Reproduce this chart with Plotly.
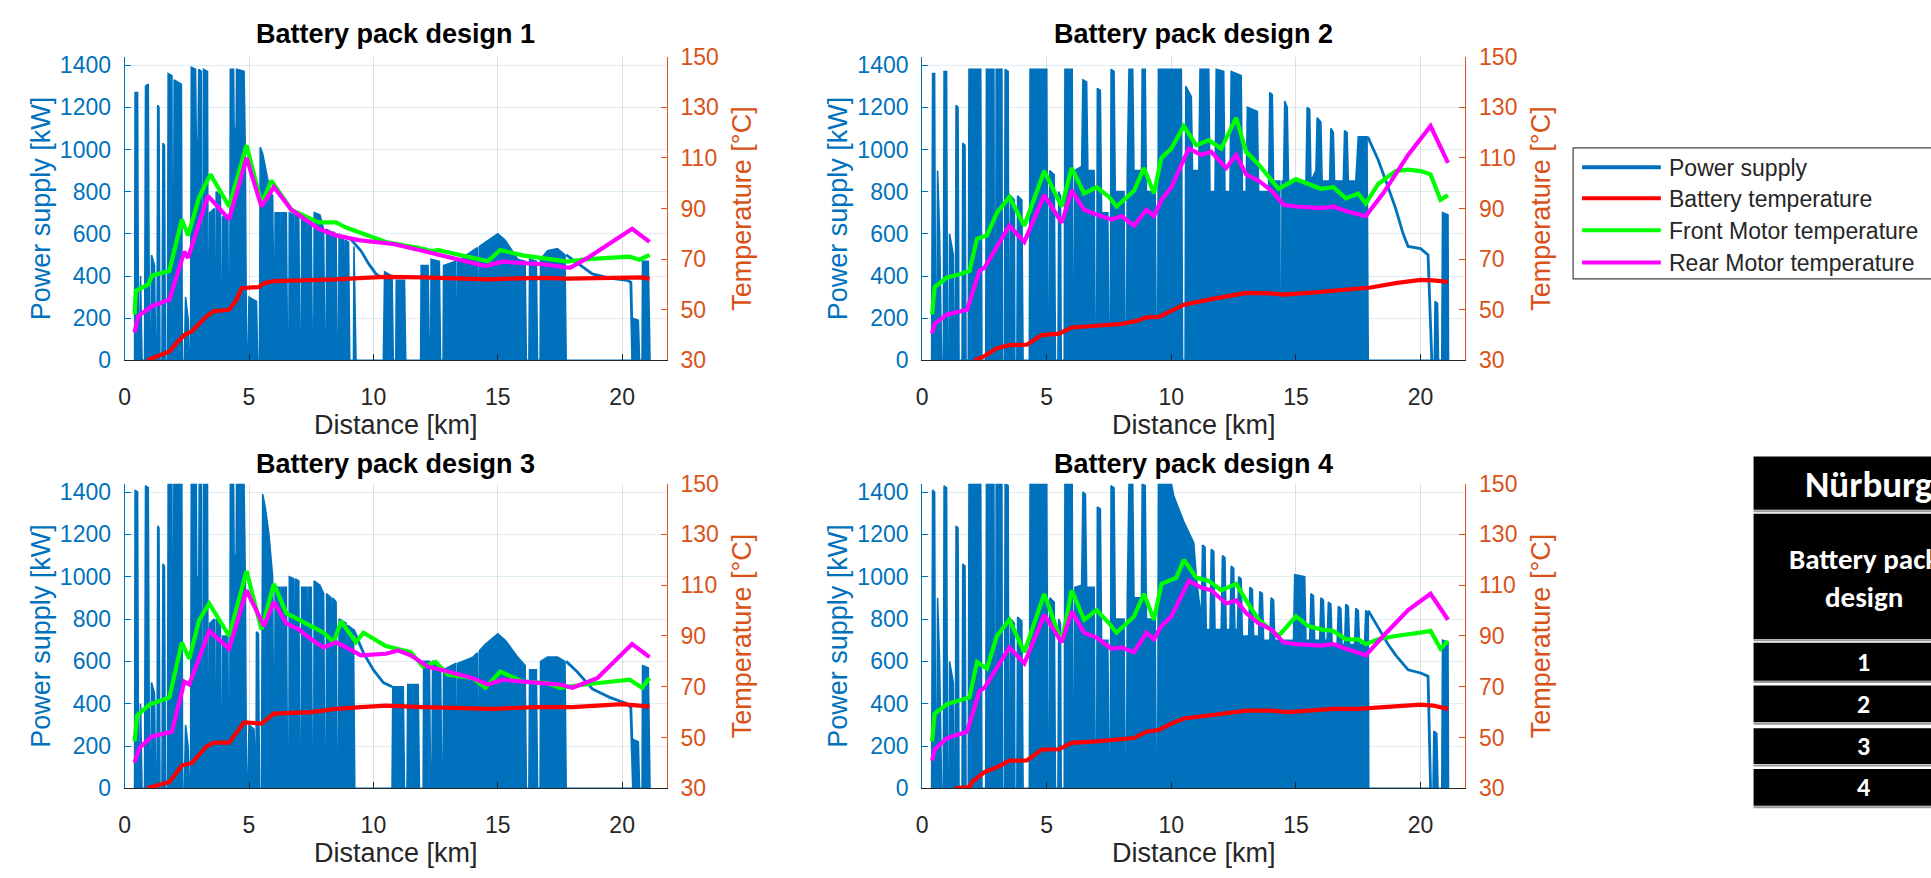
import plotly.graph_objects as go

# ---------------- data ----------------
titles = ["Battery pack design 1", "Battery pack design 2",
          "Battery pack design 3", "Battery pack design 4"]
x_ticks = [0, 5, 10, 15, 20]
power_ticks = [0, 200, 400, 600, 800, 1000, 1200, 1400]
temp_ticks = [30, 50, 70, 90, 110, 130, 150]
legend_labels = ["Power supply", "Battery temperature",
                 "Front Motor temperature", "Rear Motor temperature"]
table_title = "Nürburgring"
table_header = "Battery pack<br>design"
table_rows = ["1", "2", "3", "4"]

# power supply (km, kW) – dense switching regions given as envelopes
power_1 = [
    (0.40, 0), (0.42, 1270), (0.52, 1270), (0.56, 0), (0.60, 0), (0.64, 400), (0.70, 0),
    (0.80, 0), (0.84, 1300), (0.95, 1310), (1.00, 0), (1.05, 0), (1.08, 500), (1.20, 450), (1.25, 0),
    (1.30, 0), (1.33, 1210), (1.38, 1200), (1.42, 0), (1.50, 0), (1.54, 1030), (1.60, 1020), (1.64, 0),
    (1.72, 0), (1.75, 1360), (1.90, 1350), (1.93, 0), (1.96, 0), (1.99, 1330), (2.28, 1310), (2.32, 0),
    (2.40, 0), (2.45, 300), (2.55, 200), (2.60, 0),
    (2.65, 0), (2.68, 1390), (2.85, 1380), (2.88, 1050), (2.95, 1050), (2.98, 1380), (3.08, 1370), (3.10, 0),
    (3.15, 0), (3.17, 1380), (3.33, 1370), (3.36, 0),
    (3.40, 0), (3.42, 700), (3.60, 720), (3.62, 0), (3.66, 0), (3.68, 800), (3.85, 780), (3.88, 0),
    (3.92, 0), (3.94, 680), (4.15, 690), (4.18, 0),
    (4.22, 0), (4.25, 1380), (4.38, 1380), (4.40, 1100), (4.48, 1100), (4.50, 1380), (4.80, 1370),
    (4.85, 1000), (4.90, 0), (4.95, 0), (5.00, 300), (5.30, 280), (5.35, 0),
    (5.42, 0), (5.45, 1010), (5.55, 980), (5.70, 880), (5.85, 800), (5.95, 780), (6.00, 0),
    (6.02, 0), (6.05, 700), (6.25, 700), (6.27, 0), (6.30, 0), (6.32, 700), (6.50, 700), (6.55, 0),
    (6.60, 0), (6.62, 700), (6.80, 690), (6.82, 0), (6.85, 0), (6.87, 690), (7.00, 680), (7.05, 0),
    (7.10, 0), (7.12, 680), (7.30, 670), (7.32, 0), (7.35, 0), (7.37, 670), (7.50, 660), (7.55, 0),
    (7.60, 0), (7.62, 700), (7.85, 690), (8.00, 620), (8.05, 0),
    (8.10, 0), (8.12, 620), (8.30, 610), (8.32, 0), (8.35, 0), (8.37, 610), (8.50, 600), (8.55, 0),
    (8.60, 0), (8.62, 600), (8.80, 580), (8.82, 0), (8.85, 0), (8.87, 570), (9.00, 560), (9.05, 0),
    (9.20, 0), (9.22, 540), (9.30, 0),
    (10.40, 0), (10.45, 420), (10.75, 400), (10.80, 0), (10.90, 0), (10.92, 380), (11.25, 380), (11.30, 0),
    (11.90, 0), (11.92, 450), (12.20, 450), (12.25, 0), (12.30, 0), (12.32, 480), (12.65, 470), (12.70, 0),
    (12.80, 0), (12.82, 450), (13.30, 470), (13.32, 0), (13.36, 0), (13.38, 470), (14.00, 520),
    (14.18, 535), (14.20, 0), (14.24, 0), (14.26, 540), (14.50, 560), (15.00, 600), (15.30, 570),
    (15.80, 480), (16.10, 470), (16.15, 0), (16.25, 0), (16.28, 480), (16.55, 470), (16.60, 0),
    (16.70, 0), (16.72, 480), (17.00, 520), (17.40, 530), (17.70, 500), (17.75, 0),
    (20.40, 0), (20.42, 200), (20.65, 190), (20.70, 0), (20.80, 0), (20.82, 470), (21.05, 470),
    (21.10, 80), (21.12, 0)]
tail_1 = [(9.05, 580), (9.5, 520), (9.8, 460), (10.1, 410), (10.4, 390), None,
          (17.75, 500), (18.2, 460), (18.8, 410), (19.5, 390), (20.2, 380), (20.35, 370), (20.42, 0)]

power_2 = [
    (0.38, 0), (0.42, 1360), (0.50, 1360), (0.54, 0), (0.58, 0), (0.62, 900), (0.70, 600), (0.78, 0),
    (0.85, 0), (0.88, 1370), (0.98, 1370), (1.02, 0), (1.08, 0), (1.10, 600), (1.25, 500), (1.28, 0),
    (1.33, 0), (1.36, 1210), (1.44, 1200), (1.48, 0), (1.60, 0), (1.63, 1030), (1.72, 1020), (1.76, 0),
    (1.85, 0), (1.88, 1380), (2.35, 1380), (2.40, 0),
    (2.55, 0), (2.58, 1380), (2.88, 1380), (2.90, 0), (2.95, 0), (2.97, 1380), (3.20, 1380), (3.22, 0),
    (3.30, 0), (3.33, 1380), (3.45, 1370), (3.48, 0),
    (3.52, 0), (3.55, 780), (3.70, 760), (3.72, 0), (3.80, 0), (3.83, 780), (4.00, 760), (4.05, 0),
    (4.30, 0), (4.33, 1380), (5.00, 1380), (5.05, 0),
    (5.10, 0), (5.12, 900), (5.30, 880), (5.35, 0), (5.45, 0), (5.48, 800), (5.55, 780), (5.58, 0),
    (5.70, 0), (5.73, 1380), (6.02, 1380), (6.06, 0),
    (6.10, 0), (6.13, 900), (6.40, 920), (6.45, 1330), (6.60, 1320), (6.65, 900), (6.90, 900), (6.95, 0),
    (7.00, 0), (7.03, 1290), (7.15, 1280), (7.20, 700), (7.45, 700), (7.50, 0),
    (7.55, 0), (7.58, 1380), (7.70, 1370), (7.75, 800), (8.10, 800), (8.15, 0),
    (8.20, 0), (8.23, 900), (8.30, 1380), (8.45, 1380), (8.50, 900), (8.80, 900), (8.83, 1380),
    (8.95, 1380), (9.00, 800), (9.35, 800), (9.40, 0),
    (9.45, 0), (9.48, 1380), (10.40, 1380), (10.45, 0),
    (10.55, 0), (10.58, 1300), (10.80, 1250), (10.85, 900), (11.10, 900), (11.15, 1380), (11.50, 1380),
    (11.55, 800), (11.75, 800), (11.80, 1380), (12.10, 1370), (12.15, 800), (12.35, 800), (12.40, 1370),
    (12.80, 1350), (12.85, 800), (13.00, 800), (13.05, 1200), (13.45, 1180), (13.50, 800), (13.90, 800),
    (13.95, 1270), (14.05, 1260), (14.10, 850), (14.35, 850), (14.37, 0), (14.42, 0), (14.44, 850),
    (14.50, 850), (14.55, 1230), (14.65, 1200), (14.70, 850), (15.40, 850), (15.45, 1200), (15.55, 1190),
    (15.60, 850), (15.80, 900), (15.85, 1150), (16.00, 1130), (16.05, 850), (16.35, 850), (16.40, 1100),
    (16.50, 1080), (16.55, 850), (16.90, 850), (16.95, 1090), (17.05, 1080), (17.10, 850), (17.40, 850),
    (17.50, 1060), (17.85, 1060), (17.90, 0),
    (20.55, 0), (20.58, 280), (20.68, 270), (20.72, 0), (20.85, 0), (20.88, 700), (21.10, 690), (21.12, 0)]
tail_2 = [(17.88, 1060), (18.3, 950), (18.7, 820), (19.0, 720), (19.3, 600), (19.5, 540),
          (20.0, 530), (20.3, 500), (20.45, 0)]

power_3 = [
    (0.40, 0), (0.42, 1410), (0.52, 1400), (0.56, 0), (0.60, 0), (0.64, 400), (0.70, 0),
    (0.80, 0), (0.84, 1430), (0.95, 1420), (1.00, 0), (1.05, 0), (1.08, 500), (1.20, 450), (1.25, 0),
    (1.30, 0), (1.33, 1240), (1.38, 1230), (1.42, 0), (1.50, 0), (1.54, 1060), (1.60, 1050), (1.64, 0),
    (1.72, 0), (1.75, 1440), (1.90, 1440), (1.93, 0), (1.95, 0), (1.98, 1440), (2.30, 1440), (2.33, 0),
    (2.40, 0), (2.45, 300), (2.55, 200), (2.60, 0),
    (2.65, 0), (2.68, 1440), (2.88, 1440), (2.90, 1000), (2.98, 1000), (3.00, 1440), (3.08, 1440), (3.10, 0),
    (3.15, 0), (3.17, 1440), (3.33, 1440), (3.36, 0),
    (3.40, 0), (3.42, 780), (3.60, 800), (3.62, 0), (3.66, 0), (3.68, 800), (3.85, 780), (3.88, 0),
    (3.92, 0), (3.94, 720), (4.15, 720), (4.18, 0),
    (4.22, 0), (4.25, 1440), (4.38, 1440), (4.40, 1100), (4.48, 1100), (4.50, 1440), (4.80, 1440),
    (4.85, 1000), (4.90, 0), (4.95, 0), (5.00, 300), (5.20, 280), (5.25, 0),
    (5.28, 0), (5.30, 740), (5.38, 730), (5.42, 0),
    (5.50, 0), (5.55, 1390), (5.65, 1330), (5.80, 1200), (5.95, 1000), (6.00, 0),
    (6.02, 0), (6.05, 950), (6.25, 950), (6.27, 0), (6.30, 0), (6.32, 950), (6.50, 950), (6.55, 0),
    (6.60, 0), (6.62, 1000), (6.80, 990), (6.82, 0), (6.85, 0), (6.87, 990), (7.00, 980), (7.05, 0),
    (7.10, 0), (7.12, 950), (7.30, 950), (7.32, 0), (7.35, 0), (7.37, 950), (7.50, 950), (7.55, 0),
    (7.60, 0), (7.62, 980), (7.85, 960), (8.00, 920), (8.05, 0),
    (8.10, 0), (8.12, 920), (8.30, 900), (8.32, 0), (8.35, 0), (8.37, 900), (8.50, 880), (8.55, 0),
    (8.60, 0), (8.62, 800), (8.90, 780), (8.92, 0), (8.95, 0), (8.97, 770), (9.20, 750), (9.25, 0),
    (10.75, 0), (10.78, 480), (11.20, 480), (11.25, 0), (11.35, 0), (11.38, 490), (11.80, 490), (11.85, 0),
    (12.00, 0), (12.02, 600), (12.25, 600), (12.30, 0), (12.35, 0), (12.38, 600), (12.70, 580), (12.75, 0),
    (12.80, 0), (12.82, 560), (13.30, 590), (13.32, 0), (13.36, 0), (13.38, 590), (14.00, 620),
    (14.18, 640), (14.20, 0), (14.24, 0), (14.26, 650), (14.50, 680), (15.00, 730), (15.30, 700),
    (15.80, 620), (16.10, 580), (16.15, 0), (16.25, 0), (16.28, 560), (16.55, 560), (16.60, 0),
    (16.70, 0), (16.72, 600), (17.00, 620), (17.40, 620), (17.70, 600), (17.75, 0),
    (20.45, 0), (20.47, 230), (20.65, 220), (20.70, 0), (20.80, 0), (20.82, 580), (21.05, 570),
    (21.10, 80), (21.12, 0)]
tail_3 = [(9.2, 750), (9.6, 640), (10.0, 560), (10.4, 500), (10.75, 480), None,
          (17.75, 600), (18.2, 550), (18.8, 470), (19.5, 430), (20.2, 400), (20.35, 380), (20.45, 0)]

power_4 = [
    (0.38, 0), (0.42, 1410), (0.50, 1400), (0.54, 0), (0.58, 0), (0.62, 900), (0.70, 600), (0.78, 0),
    (0.85, 0), (0.88, 1430), (0.98, 1420), (1.02, 0), (1.08, 0), (1.10, 600), (1.25, 500), (1.28, 0),
    (1.33, 0), (1.36, 1240), (1.44, 1230), (1.48, 0), (1.60, 0), (1.63, 1060), (1.72, 1050), (1.76, 0),
    (1.85, 0), (1.88, 1440), (2.35, 1440), (2.40, 0),
    (2.55, 0), (2.58, 1440), (2.88, 1440), (2.90, 0), (2.95, 0), (2.97, 1440), (3.20, 1440), (3.22, 0),
    (3.30, 0), (3.33, 1440), (3.45, 1430), (3.48, 0),
    (3.52, 0), (3.55, 800), (3.70, 780), (3.72, 0), (3.80, 0), (3.83, 810), (4.00, 790), (4.05, 0),
    (4.30, 0), (4.33, 1440), (5.00, 1440), (5.05, 0),
    (5.10, 0), (5.12, 900), (5.30, 880), (5.35, 0), (5.45, 0), (5.48, 800), (5.55, 780), (5.58, 0),
    (5.70, 0), (5.73, 1440), (6.02, 1440), (6.06, 0),
    (6.10, 0), (6.13, 950), (6.40, 960), (6.45, 1400), (6.55, 1390), (6.60, 950), (6.90, 950), (6.95, 0),
    (7.00, 0), (7.03, 1330), (7.15, 1320), (7.20, 700), (7.45, 700), (7.50, 0),
    (7.55, 0), (7.58, 1430), (7.70, 1420), (7.75, 800), (8.10, 800), (8.15, 0),
    (8.20, 0), (8.23, 900), (8.30, 1440), (8.45, 1440), (8.50, 900), (8.80, 900), (8.83, 1440),
    (8.95, 1430), (9.00, 800), (9.35, 800), (9.40, 0),
    (9.45, 0), (9.48, 1440), (10.00, 1440), (10.10, 1380), (10.50, 1260), (10.90, 1160), (11.00, 1000),
    (11.20, 800), (11.25, 1150), (11.35, 1140), (11.40, 750), (11.55, 750), (11.60, 1130), (11.70, 1120),
    (11.75, 750), (12.00, 750), (12.05, 1100), (12.15, 1090), (12.20, 750), (12.35, 750), (12.40, 1050),
    (12.50, 1040), (12.55, 750), (12.65, 750), (12.70, 1000), (12.80, 990), (12.85, 720), (13.10, 720),
    (13.15, 950), (13.25, 940), (13.30, 720), (13.50, 720), (13.55, 930), (13.65, 920), (13.70, 700),
    (13.95, 700), (14.00, 900), (14.10, 890), (14.15, 700), (14.90, 700), (14.95, 1010), (15.35, 1000),
    (15.40, 700), (15.55, 700), (15.60, 920), (15.70, 910), (15.75, 700), (15.95, 700), (16.00, 900),
    (16.10, 890), (16.15, 700), (16.25, 700), (16.30, 880), (16.40, 870), (16.45, 680), (16.65, 680),
    (16.70, 860), (16.80, 850), (16.85, 680), (16.95, 680), (17.00, 870), (17.10, 860), (17.15, 680),
    (17.35, 680), (17.40, 850), (17.50, 840), (17.55, 680), (17.75, 680), (17.80, 840), (17.90, 830),
    (17.92, 0),
    (20.50, 0), (20.53, 270), (20.65, 260), (20.70, 0), (20.85, 0), (20.88, 700), (21.10, 690), (21.12, 0)]
tail_4 = [(17.9, 840), (18.3, 760), (18.7, 680), (19.0, 630), (19.5, 560), (20.0, 545),
          (20.3, 530), (20.4, 0)]

# temperatures (km, degC)
bat_1 = [(0.9, 30), (1.3, 31.5), (1.8, 33.5), (2.1, 37), (2.4, 40), (2.7, 41.5), (3.0, 44.5), (3.3, 47.5),
         (3.6, 49.5), (4.2, 50), (4.5, 54), (4.7, 58.5), (5.4, 59), (5.6, 60.5), (6.0, 61.3), (7.0, 61.5),
         (7.8, 61.7), (8.5, 62), (9.6, 62.6), (10.5, 63), (12.0, 62.8), (13.2, 62.6), (14.6, 62),
         (15.5, 62.3), (16.8, 62.6), (17.8, 62.3), (18.6, 62.5), (20.0, 62.8), (20.8, 62.8), (21.1, 62.2)]
front_1 = [(0.4, 48.2), (0.45, 57.5), (0.95, 60), (1.1, 63.5), (1.8, 65.4), (2.3, 85.7), (2.55, 79.4),
           (3.0, 94.6), (3.45, 103.5), (4.2, 90.8), (4.9, 115), (5.5, 92), (5.9, 101), (6.7, 89.5),
           (7.8, 84.5), (8.5, 84.5), (8.9, 82.5), (9.4, 80.6), (10.5, 76.8), (11.9, 74.3), (12.3, 73.2),
           (12.6, 73.6), (13.5, 71.7), (14.6, 69.2), (15.1, 73.6), (16.0, 71.5), (16.8, 70.4), (17.8, 69),
           (18.6, 70), (20.3, 71), (20.7, 69.8), (21.1, 71.7)]
rear_1 = [(0.4, 41), (0.55, 47.5), (1.1, 51.4), (1.8, 54), (2.4, 73), (2.55, 70.5), (3.35, 95), (4.2, 85.7),
          (4.9, 110), (5.5, 90.8), (6.0, 98.5), (6.7, 89.5), (7.8, 82), (8.5, 79.4), (9.4, 77.5), (10.8, 76),
          (12.1, 73), (13.2, 70.4), (14.5, 67.3), (15.2, 69), (16.8, 68), (17.9, 66.6), (18.6, 70.4),
          (20.4, 82), (21.1, 76.8)]

bat_2 = [(2.1, 30), (2.5, 31.7), (3.0, 34.8), (3.5, 36), (4.2, 36.2), (4.8, 40), (5.5, 40.6), (6.0, 43),
         (7.0, 43.7), (8.0, 44.4), (8.6, 45.6), (9.0, 47), (9.5, 47.2), (10.0, 49.5), (10.5, 52), (11.5, 54),
         (12.2, 55.2), (12.6, 55.8), (13.0, 56.7), (14.0, 56.5), (14.5, 56), (15.5, 56.7), (16.5, 57.7),
         (17.5, 58.4), (18.0, 58.8), (19.0, 60.5), (20.0, 61.8), (20.5, 61.6), (21.1, 61)]
front_2 = [(0.4, 48.2), (0.5, 59), (1.0, 62.8), (1.5, 64), (1.9, 65.4), (2.2, 78), (2.6, 79.4), (3.0, 88.3),
           (3.5, 94.6), (4.1, 83.2), (4.9, 104.8), (5.6, 90.8), (6.0, 106), (6.5, 96), (7.0, 98.4),
           (7.5, 94.6), (7.8, 90.8), (8.5, 97), (8.9, 106), (9.3, 96), (9.6, 110), (10.0, 113.7),
           (10.5, 122.6), (11.0, 115), (11.5, 117), (12.0, 113.7), (12.6, 125.8), (13.0, 112.4),
           (13.5, 107.4), (14.3, 97.8), (15.0, 101.6), (15.5, 99.7), (16.0, 97.8), (16.5, 98.4), (17.0, 94),
           (17.5, 95.9), (17.8, 92), (18.3, 99.7), (19.0, 104.8), (19.5, 105.4), (20.0, 104.8),
           (20.4, 103.5), (20.8, 93.4), (21.1, 95.3)]
rear_2 = [(0.4, 40.6), (0.5, 44.4), (1.0, 48.2), (1.8, 50), (2.3, 65.4), (2.5, 66.6), (3.5, 83.2),
          (4.1, 76.8), (4.9, 95.3), (5.6, 84.4), (6.0, 97.2), (6.5, 89.5), (7.0, 87.6), (7.6, 85.7),
          (8.0, 87), (8.5, 83.2), (9.0, 89.5), (9.3, 87), (9.6, 93.4), (10.0, 98.4), (10.7, 113.7),
          (11.2, 111.2), (11.6, 112.4), (12.2, 106), (12.6, 111.2), (13.0, 103.5), (13.5, 101), (14.0, 97.2),
          (14.5, 91.5), (15.0, 90.8), (16.0, 90.2), (16.5, 90.8), (17.0, 89), (17.8, 87), (18.5, 96),
          (19.5, 111.2), (20.4, 122.6), (21.1, 108)]

bat_3 = [(0.9, 30), (1.8, 32.5), (2.3, 39), (2.7, 40), (3.3, 46.6), (3.6, 48), (4.2, 48), (4.8, 56),
         (5.5, 55.5), (6.0, 59.4), (7.5, 60), (8.5, 61.3), (9.5, 62), (10.5, 62.6), (12.0, 62), (13.5, 61.8),
         (14.8, 61.3), (16.5, 62), (18.0, 62), (20.0, 63.2), (21.1, 62.2)]
front_3 = [(0.4, 48.5), (0.5, 58.7), (1.0, 63), (1.8, 65.8), (2.3, 87.5), (2.6, 81), (3.0, 96.4),
           (3.4, 102.8), (4.2, 90), (4.9, 115.6), (5.5, 92.6), (6.0, 110.5), (6.5, 99), (7.0, 96.4),
           (7.5, 93.9), (8.0, 91.3), (8.4, 87.5), (8.7, 95.8), (9.3, 87.5), (9.6, 91.3), (10.5, 86),
           (11.5, 83.6), (12.0, 77.9), (12.5, 79.8), (13.0, 74.7), (14.0, 73.4), (14.5, 69.6), (15.1, 76),
           (16.0, 72), (17.0, 71.5), (17.5, 69.6), (18.5, 70.9), (20.3, 72.8), (20.8, 69.6), (21.1, 73.4)]
rear_3 = [(0.4, 40.2), (0.6, 46), (1.1, 50.4), (1.9, 52.3), (2.4, 72), (2.6, 70.9), (3.4, 92), (4.2, 85),
          (4.9, 108), (5.6, 93.9), (6.0, 103.4), (6.5, 95), (7.0, 92.6), (7.5, 88.7), (8.0, 85.5),
          (8.5, 87.5), (9.0, 85), (9.5, 82.4), (10.5, 83), (11.0, 84.3), (11.5, 82.4), (12.2, 77.9),
          (13.0, 76), (14.0, 73.4), (14.6, 70.9), (15.2, 72.8), (16.0, 72), (17.5, 70.9), (18.0, 69.6),
          (19.0, 73.4), (20.4, 86.8), (21.1, 81.7)]

bat_4 = [(1.3, 30), (1.9, 30.5), (2.0, 32.5), (2.5, 36.4), (3.0, 38.3), (3.5, 40.9), (4.2, 41), (4.8, 45.3),
         (5.5, 45.4), (6.0, 47.9), (7.0, 48.5), (8.0, 49.2), (8.5, 49.8), (9.0, 52.3), (9.5, 53), (10.0, 55.5),
         (10.5, 57.5), (11.5, 58.7), (12.2, 59.4), (13.0, 60.6), (14.0, 60.6), (14.7, 60), (15.5, 60.6),
         (16.5, 61.3), (17.5, 61.3), (18.0, 61.7), (19.0, 62.6), (20.0, 63), (20.5, 62.6), (21.1, 61.3)]
front_4 = [(0.4, 48.5), (0.5, 59.4), (1.0, 63.2), (1.9, 65.8), (2.2, 79.8), (2.6, 77.2), (3.0, 90),
           (3.5, 96.4), (4.1, 83.6), (4.9, 106.6), (5.6, 87.5), (6.0, 108), (6.5, 96.4), (7.0, 100.2),
           (7.5, 95), (7.8, 91.3), (8.5, 97.7), (8.9, 106.6), (9.3, 96.4), (9.6, 110.5), (10.2, 113),
           (10.5, 120), (11.0, 113), (11.5, 111.7), (12.0, 108), (12.6, 110.5), (13.0, 104), (13.5, 96.4),
           (14.3, 90), (15.0, 97.7), (15.5, 93.9), (16.0, 92.6), (16.5, 92), (17.0, 88.7), (17.5, 88.7),
           (17.8, 86.8), (18.3, 88.7), (19.0, 90), (20.0, 91.3), (20.4, 92), (20.8, 85), (21.1, 88)]
rear_4 = [(0.4, 40.9), (0.5, 45.3), (1.0, 49.8), (1.8, 52.3), (2.3, 68.3), (2.5, 69.6), (3.5, 85.5),
          (4.1, 79.2), (4.9, 98.3), (5.6, 87.5), (6.0, 99.6), (6.5, 91.3), (7.0, 89.4), (7.6, 85), (8.0, 85.5),
          (8.5, 83.6), (9.0, 91.3), (9.3, 88.7), (9.6, 93.9), (10.0, 97.7), (10.7, 111.7), (11.2, 109.1),
          (11.6, 108), (12.2, 102.8), (12.6, 104), (13.0, 99), (13.5, 95), (14.0, 92.6), (14.5, 87.5),
          (15.0, 86.8), (16.0, 86.2), (16.5, 86.8), (17.0, 85), (17.8, 82.4), (18.5, 90), (19.5, 100.2),
          (20.4, 106.6), (21.1, 96.4)]

powers = [power_1, power_2, power_3, power_4]
tails = [tail_1, tail_2, tail_3, tail_4]
bats = [bat_1, bat_2, bat_3, bat_4]
fronts = [front_1, front_2, front_3, front_4]
rears = [rear_1, rear_2, rear_3, rear_4]

# ---------------- styling / layout ----------------
W, H = 1931, 878
BLUE, ORANGE = "#0072BD", "#D95319"
RED, GREEN, MAGENTA = "#FF0000", "#00FF00", "#FF00FF"
DARK = "#262626"
FONT = "Liberation Sans, Arial, Helvetica, sans-serif"
TFONT = "Carlito, Lato, Noto Sans, sans-serif"

# panel pixel boxes: (left, right, top, bottom)
boxes = [(119, 663, 45, 358), (919, 1464, 45, 358),
         (119, 663, 485, 799), (919, 1464, 485, 799)]
title_y = [22, 22, 465, 465]


def fx(px):
    return px / W


def fy(py):
    return 1 - py / H


def unzip(pairs):
    xs = [p[0] if p is not None else None for p in pairs]
    ys = [p[1] if p is not None else None for p in pairs]
    return xs, ys


fig = go.Figure()
layout = dict(
    width=W, height=H, margin=dict(l=0, r=0, t=0, b=0),
    paper_bgcolor="white", plot_bgcolor="white", showlegend=False,
    font=dict(family=FONT, color=DARK),
)
annotations = []
shapes = []

for k in range(4):
    xa = "x" if k == 0 else f"x{k + 1}"
    yl = "y" if k == 0 else f"y{2 * k + 1}"
    yr = f"y{2 * k + 2}"
    xkey = "xaxis" if k == 0 else f"xaxis{k + 1}"
    ylkey = "yaxis" if k == 0 else f"yaxis{2 * k + 1}"
    yrkey = f"yaxis{2 * k + 2}"
    l, r, t, b = boxes[k]

    px_, py_ = unzip(powers[k])
    fig.add_trace(go.Scatter(x=px_, y=py_, mode="lines", fill="tozeroy", fillcolor=BLUE,
                             line=dict(color=BLUE, width=1.6), xaxis=xa, yaxis=yl,
                             name="Power supply"))
    tx, ty = unzip(tails[k])
    fig.add_trace(go.Scatter(x=tx, y=ty, mode="lines", line=dict(color=BLUE, width=2.8),
                             xaxis=xa, yaxis=yl, name="Power supply", connectgaps=False))
    for series, col, nm in [(bats[k], RED, legend_labels[1]),
                            (fronts[k], GREEN, legend_labels[2]),
                            (rears[k], MAGENTA, legend_labels[3])]:
        sx, sy = unzip(series)
        fig.add_trace(go.Scatter(x=sx, y=sy, mode="lines", line=dict(color=col, width=4.2),
                                 xaxis=xa, yaxis=yr, name=nm))

    layout[xkey] = dict(
        domain=[fx(l), fx(r)], anchor=yl, range=[0, 21.8], tickvals=x_ticks,
        ticks="inside", ticklen=6, tickcolor=DARK, showline=True, linecolor=DARK, linewidth=1,
        showgrid=True, gridcolor="rgba(38,38,38,0.15)", zeroline=False,
        tickfont=dict(size=23, color=DARK), ticklabelstandoff=16,
        title=dict(text="Distance [km]", font=dict(size=27, color=DARK), standoff=4),
    )
    layout[ylkey] = dict(
        domain=[fy(b), fy(t)], anchor=xa, range=[0, 1440], tickvals=power_ticks,
        ticks="inside", ticklen=6, tickcolor=BLUE, showline=True, linecolor=BLUE, linewidth=1,
        showgrid=True, gridcolor="rgba(0,114,189,0.13)", zeroline=False,
        tickfont=dict(size=23, color=BLUE), ticklabelstandoff=8,
        title=dict(text="Power supply [kW]", font=dict(size=27, color=BLUE), standoff=1),
    )
    layout[yrkey] = dict(
        overlaying=yl, side="right", anchor=xa, range=[30, 150], tickvals=temp_ticks,
        ticks="inside", ticklen=6, tickcolor=ORANGE, showline=True, linecolor=ORANGE, linewidth=1,
        showgrid=False, zeroline=False,
        tickfont=dict(size=23, color=ORANGE), ticklabelstandoff=8,
        title=dict(text="Temperature [°C]", font=dict(size=27, color=ORANGE), standoff=14),
    )
    annotations.append(dict(
        text=titles[k], x=fx((l + r) / 2), y=fy(title_y[k]), xref="paper", yref="paper",
        xanchor="center", yanchor="middle", showarrow=False,
        font=dict(size=27, color="#000000", family=FONT, weight="bold"),
    ))

# ---- legend box (drawn) ----
shapes.append(dict(type="rect", xref="paper", yref="paper", x0=fx(1572), x1=fx(1945),
                   y0=fy(274), y1=fy(139), line=dict(color="#404040", width=1.2),
                   fillcolor="white", layer="above"))
leg_rows = [159, 191, 224, 257]
for lab, col, yy in zip(legend_labels, [BLUE, RED, GREEN, MAGENTA], leg_rows):
    shapes.append(dict(type="line", xref="paper", yref="paper", x0=fx(1581), x1=fx(1660),
                       y0=fy(yy), y1=fy(yy), line=dict(color=col, width=4), layer="above"))
    annotations.append(dict(text=lab, x=fx(1666), y=fy(yy + 1), xref="paper", yref="paper",
                            xanchor="left", yanchor="middle", showarrow=False,
                            font=dict(size=23, color=DARK, family=FONT)))

# ---- table (drawn) ----
blocks = [(457, 512), (516, 645), (649, 688), (693, 731), (737, 774), (779, 817)]
for (t0, t1) in blocks:
    shapes.append(dict(type="rect", xref="paper", yref="paper", x0=fx(1753), x1=fx(1990),
                       y0=fy(t1), y1=fy(t0), line=dict(width=0), fillcolor="black", layer="above"))
    shapes.append(dict(type="line", xref="paper", yref="paper", x0=fx(1753), x1=fx(1990),
                       y0=fy(t1 + 1.5), y1=fy(t1 + 1.5), line=dict(color="#9a9a9a", width=2),
                       layer="above"))
annotations.append(dict(text=f"<b>{table_title}</b>", x=fx(1803), y=fy(486), xref="paper", yref="paper",
                        xanchor="left", yanchor="middle", showarrow=False,
                        font=dict(size=37, color="white", family=TFONT)))
annotations.append(dict(text=f"<b>{table_header}</b>", x=fx(1864), y=fy(582), xref="paper", yref="paper",
                        xanchor="center", yanchor="middle", showarrow=False,
                        font=dict(size=29, color="white", family=TFONT)))
for lab, (t0, t1) in zip(table_rows, blocks[2:]):
    annotations.append(dict(text=f"<b>{lab}</b>", x=fx(1863), y=fy((t0 + t1) / 2), xref="paper",
                            yref="paper", xanchor="center", yanchor="middle", showarrow=False,
                            font=dict(size=26, color="white", family=TFONT)))

layout["annotations"] = annotations
layout["shapes"] = shapes
fig.update_layout(**layout)

fig.write_html("out.html", config={"displayModeBar": False},
               post_script="document.body.style.margin='0';document.body.style.overflow='hidden';")
